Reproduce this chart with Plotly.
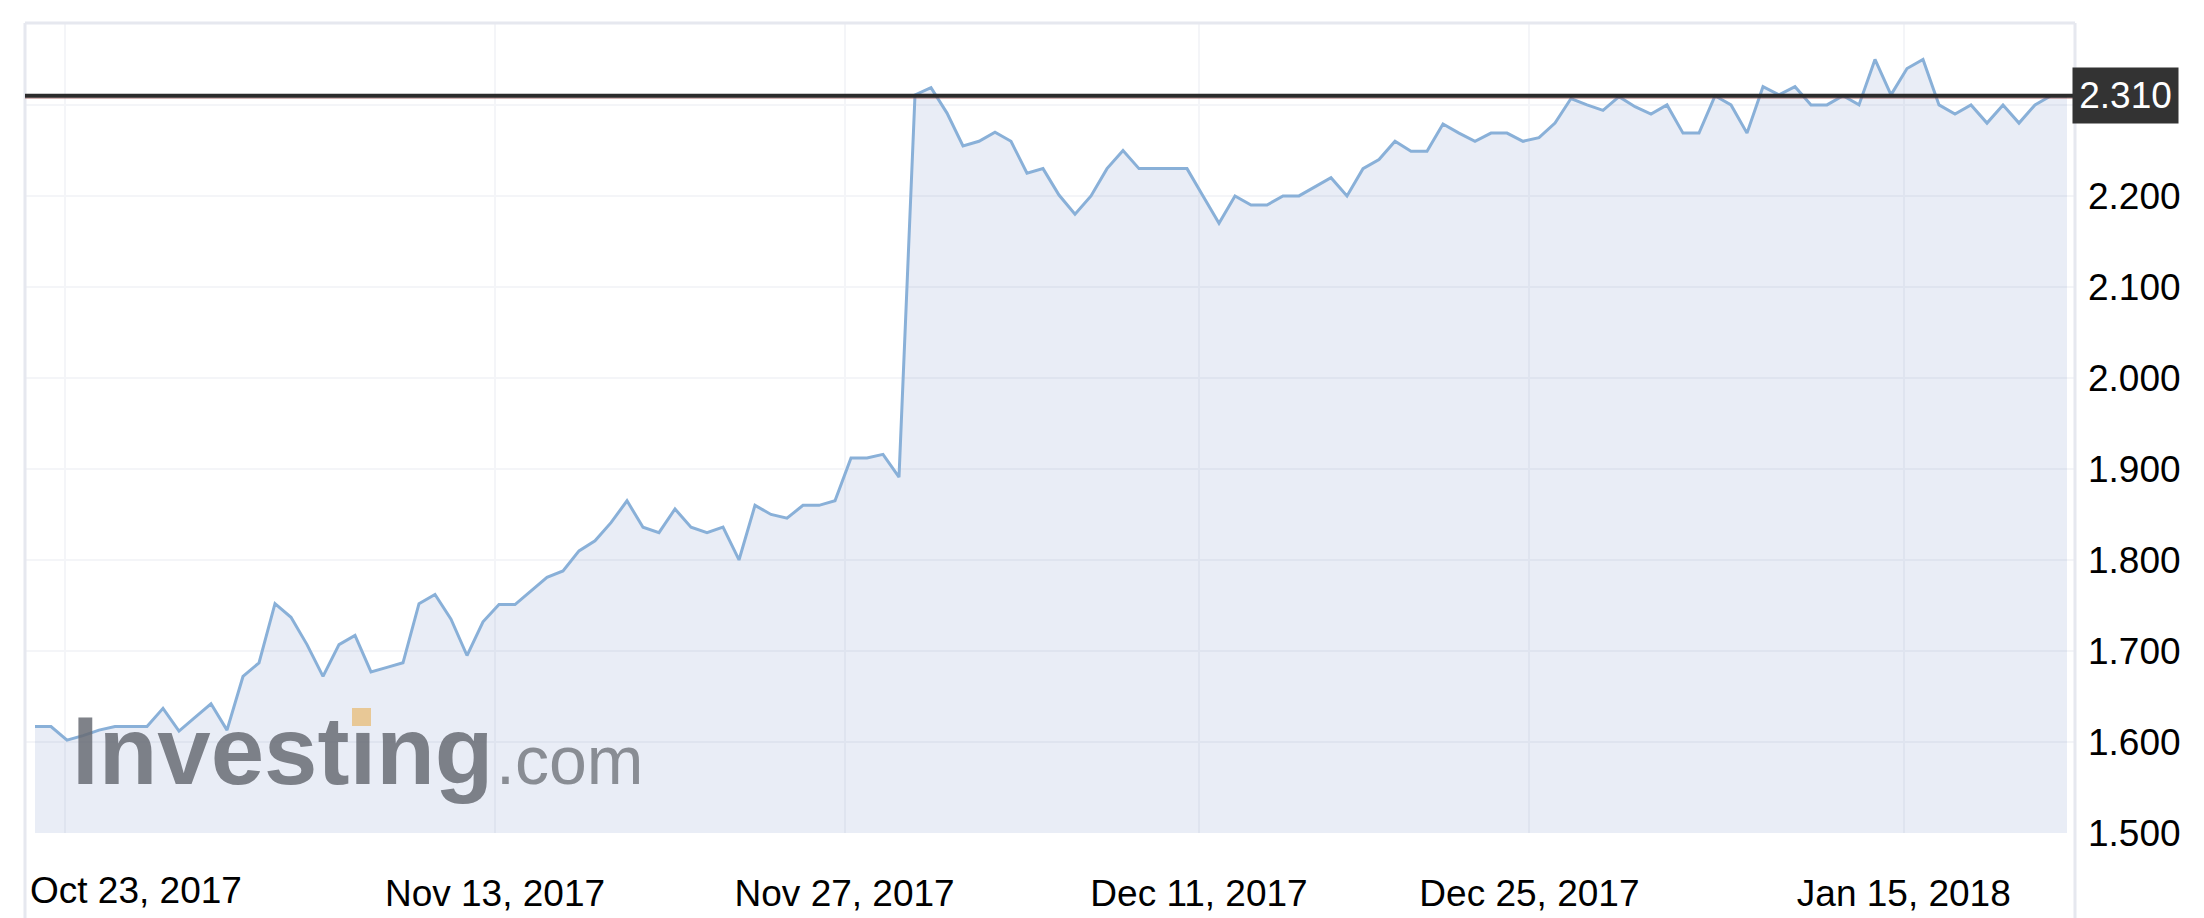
import plotly.graph_objects as go

# one value per session
yields = [
    1.617, 1.617, 1.602, 1.607, 1.613, 1.617, 1.617, 1.617, 1.637, 1.612,
    1.627, 1.642, 1.613, 1.672, 1.687, 1.752, 1.737, 1.707, 1.672, 1.707,
    1.717, 1.677, 1.682, 1.687, 1.752, 1.762, 1.735, 1.695, 1.732, 1.751,
    1.751, 1.766, 1.781, 1.788, 1.810, 1.821, 1.841, 1.865, 1.836, 1.830,
    1.856, 1.836, 1.830, 1.836, 1.800, 1.860, 1.850, 1.846, 1.860, 1.860,
    1.865, 1.912, 1.912, 1.916, 1.891, 2.311, 2.319, 2.291, 2.255, 2.260,
    2.270, 2.260, 2.225, 2.230, 2.201, 2.180, 2.200, 2.230, 2.250, 2.230,
    2.230, 2.230, 2.230, 2.200, 2.170, 2.200, 2.190, 2.190, 2.200, 2.200,
    2.210, 2.220, 2.200, 2.230, 2.240, 2.260, 2.249, 2.249, 2.279, 2.269,
    2.260, 2.269, 2.269, 2.260, 2.264, 2.280, 2.307, 2.300, 2.294, 2.309,
    2.298, 2.290, 2.300, 2.269, 2.269, 2.310, 2.300, 2.269, 2.320, 2.311,
    2.320, 2.300, 2.300, 2.310, 2.300, 2.350, 2.311, 2.340, 2.350, 2.300,
    2.290, 2.300, 2.280, 2.300, 2.280, 2.300, 2.310, 2.310,
]
sessions = list(range(len(yields)))

date_labels = ["Oct 23, 2017", "Nov 13, 2017", "Nov 27, 2017",
               "Dec 11, 2017", "Dec 25, 2017", "Jan 15, 2018"]
date_ticks = [1.875, 28.75, 50.6, 72.75, 93.4, 116.8]

y_ticks = [1.5, 1.6, 1.7, 1.8, 1.9, 2.0, 2.1, 2.2, 2.3]
last_value = 2.310

FONT = "Liberation Sans, Arial, sans-serif"
FRAME = "#e6e8ef"
GRID = "#f4f5f8"

fig = go.Figure()
fig.add_trace(go.Scatter(
    x=sessions, y=yields,
    mode="lines",
    line=dict(color="#89b0d8", width=3),
    fill="tozeroy",
    fillcolor="rgba(70,110,180,0.12)",
    hoverinfo="skip",
))

# the last-value tag covers the 2.300 label, so leave it blank
y_text = ["" if v == 2.3 else f"{v:.3f}" for v in y_ticks]

fig.update_layout(
    width=2204,
    height=918,
    margin=dict(l=25, r=129, t=23, b=85, autoexpand=False),
    plot_bgcolor="white",
    paper_bgcolor="white",
    showlegend=False,
    font=dict(family=FONT, size=37, color="black"),
    xaxis=dict(
        range=[-0.625, 127.5],
        tickmode="array",
        tickvals=date_ticks,
        ticktext=[""] + date_labels[1:],
        showgrid=True,
        gridcolor=GRID,
        gridwidth=2,
        zeroline=False,
        showline=False,
        ticks="",
        ticklabelstandoff=35,
        tickfont=dict(family=FONT, size=37, color="black"),
    ),
    yaxis=dict(
        range=[1.49999, 2.39],
        side="right",
        tickmode="array",
        tickvals=y_ticks,
        ticktext=y_text,
        showgrid=True,
        gridcolor=GRID,
        gridwidth=2,
        zeroline=False,
        showline=False,
        ticks="",
        ticklabelstandoff=12,
        tickfont=dict(family=FONT, size=37, color="black"),
    ),
)

# light frame around the chart, running down past the date labels
frame_bottom = -85 / 810
fig.add_shape(type="line", xref="paper", yref="paper", x0=0, x1=0, y0=frame_bottom, y1=1,
              line=dict(color=FRAME, width=3))
fig.add_shape(type="line", xref="paper", yref="paper", x0=1, x1=1, y0=frame_bottom, y1=1,
              line=dict(color=FRAME, width=3))
fig.add_shape(type="line", xref="paper", yref="paper", x0=0, x1=1, y0=1, y1=1,
              line=dict(color=FRAME, width=3))

# current value line
fig.add_shape(type="line", xref="paper", yref="y", x0=0, x1=1, y0=last_value - 0.0025, y1=last_value - 0.0025,
              line=dict(color="rgba(150,70,70,0.7)", width=1))
fig.add_shape(type="line", xref="paper", yref="y", x0=0, x1=1, y0=last_value, y1=last_value,
              line=dict(color="#2b2b2b", width=4))

# watermark
fig.add_annotation(xref="paper", yref="paper", x=(70 - 25) / 2050, y=(833 - 750) / 810,
                   xanchor="left", yanchor="middle", showarrow=False,
                   text="<b>Investıng</b>",
                   font=dict(family=FONT, size=96, color="rgba(105,108,116,0.85)"))
fig.add_annotation(xref="paper", yref="paper", x=(494 - 25) / 2050, y=(833 - 760) / 810,
                   xanchor="left", yanchor="middle", showarrow=False,
                   text=".com",
                   font=dict(family=FONT, size=68, color="rgba(120,123,130,0.85)"))
fig.add_shape(type="rect", xref="paper", yref="paper",
              x0=(352 - 25) / 2050, x1=(371 - 25) / 2050,
              y0=(833 - 726) / 810, y1=(833 - 708) / 810,
              fillcolor="#e8c896", line=dict(width=0))

# first date label sits flush with the left edge
fig.add_annotation(xref="paper", yref="paper", x=(28 - 25) / 2050, y=(833 - 891) / 810,
                   xanchor="left", yanchor="middle", showarrow=False,
                   text=date_labels[0],
                   font=dict(family=FONT, size=37, color="black"))

# last value tag
fig.add_annotation(xref="paper", yref="y", x=1, y=last_value, xshift=-3,
                   xanchor="left", yanchor="middle", showarrow=False,
                   text=f"{last_value:.3f}", bgcolor="#333333", borderpad=0,
                   width=105, height=55, align="center",
                   font=dict(family=FONT, size=37, color="white"))

fig.write_html("out.html", config={"displayModeBar": False},
               post_script="document.body.style.margin = '0';")
